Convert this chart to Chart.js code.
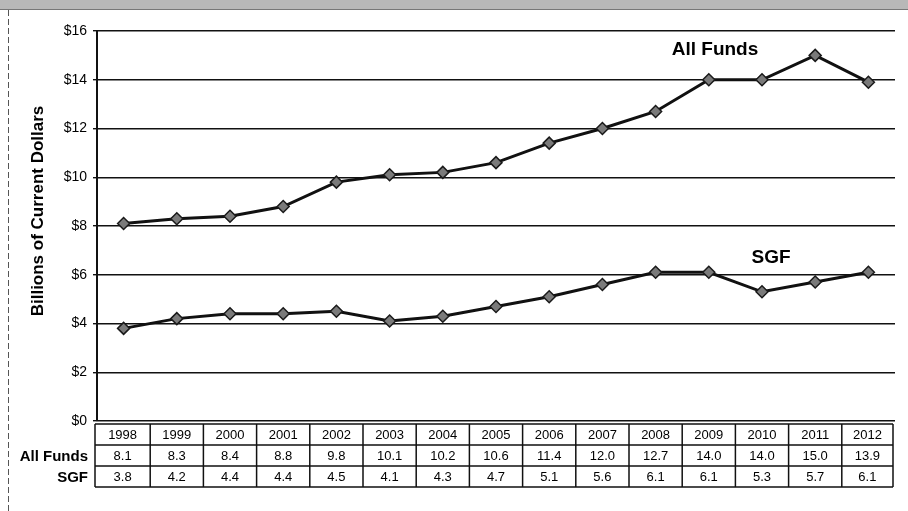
<!DOCTYPE html>
<html>
<head>
<meta charset="utf-8">
<script src="https://cdn.jsdelivr.net/npm/chart.js@4/dist/chart.umd.min.js"></script>
<style>
  html, body { margin: 0; padding: 0; background: #fff; }
  #wrap { width: 908px; height: 511px; position: relative; }
</style>
</head>
<body>
<div id="wrap"><canvas id="c" width="908" height="511"></canvas></div>
<script>
const years = ['1998','1999','2000','2001','2002','2003','2004','2005','2006','2007','2008','2009','2010','2011','2012'];
const allFunds = [8.1, 8.3, 8.4, 8.8, 9.8, 10.1, 10.2, 10.6, 11.4, 12.0, 12.7, 14.0, 14.0, 15.0, 13.9];
const sgf = [3.8, 4.2, 4.4, 4.4, 4.5, 4.1, 4.3, 4.7, 5.1, 5.6, 6.1, 6.1, 5.3, 5.7, 6.1];
const yTicks = [0, 2, 4, 6, 8, 10, 12, 14, 16];
const rowLabels = ['All Funds', 'SGF'];
const yTitle = 'Billions of Current Dollars';

const FONT = '"Liberation Sans", Arial, sans-serif';

const decor = {
  id: 'decor',
  beforeDraw(chart) {
    const ctx = chart.ctx;
    ctx.save();
    ctx.fillStyle = '#fff';
    ctx.fillRect(0, 0, chart.width, chart.height);
    // top gray band
    ctx.fillStyle = '#b8b8b8';
    ctx.fillRect(0, 0, chart.width, 10);
    ctx.fillStyle = '#777';
    ctx.fillRect(0, 9, chart.width, 1);
    // left dashed border
    ctx.strokeStyle = '#555';
    ctx.lineWidth = 1;
    ctx.setLineDash([6, 3]);
    ctx.beginPath();
    ctx.moveTo(8.5, 10);
    ctx.lineTo(8.5, chart.height);
    ctx.stroke();
    ctx.restore();
  },
  afterDraw(chart) {
    const ctx = chart.ctx;
    const area = chart.chartArea;
    const xs = chart.scales.x;
    ctx.save();
    // y title
    ctx.fillStyle = '#000';
    ctx.font = 'bold 17px ' + FONT;
    ctx.textAlign = 'center';
    ctx.textBaseline = 'middle';
    ctx.translate(38, 211);
    ctx.rotate(-Math.PI / 2);
    ctx.fillText(yTitle, 0, 0);
    ctx.restore();

    ctx.save();
    // series labels
    ctx.fillStyle = '#000';
    ctx.font = 'bold 19px ' + FONT;
    ctx.textAlign = 'center';
    ctx.textBaseline = 'middle';
    ctx.fillText(chart.data.datasets[0].label, 715, 50);
    ctx.fillText(chart.data.datasets[1].label, 771, 258);

    // data table
    const top = area.bottom + 3;
    const rowH = 21;
    const left = area.left - 2;
    const right = area.right - 2;
    const n = years.length;
    const bounds = [left];
    for (let i = 0; i < n - 1; i++) {
      bounds.push((xs.getPixelForValue(i) + xs.getPixelForValue(i + 1)) / 2);
    }
    bounds.push(right);
    ctx.strokeStyle = '#111';
    ctx.lineWidth = 1.5;
    ctx.beginPath();
    for (let r = 0; r <= 3; r++) {
      ctx.moveTo(left, top + r * rowH);
      ctx.lineTo(right, top + r * rowH);
    }
    bounds.forEach(b => {
      ctx.moveTo(b, top);
      ctx.lineTo(b, top + 3 * rowH);
    });
    ctx.stroke();

    ctx.font = '13px ' + FONT;
    ctx.textAlign = 'center';
    ctx.textBaseline = 'middle';
    const rows = [years, allFunds.map(v => v.toFixed(1)), sgf.map(v => v.toFixed(1))];
    rows.forEach((row, r) => {
      row.forEach((t, i) => {
        const cx = (bounds[i] + bounds[i + 1]) / 2;
        ctx.fillText(t, cx, top + r * rowH + rowH / 2 + 1);
      });
    });
    ctx.font = 'bold 15px ' + FONT;
    ctx.textAlign = 'right';
    rowLabels.forEach((lab, r) => {
      ctx.fillText(lab, 88, top + (r + 1) * rowH + rowH / 2 + 1);
    });
    ctx.restore();
  }
};

new Chart(document.getElementById('c'), {
  type: 'line',
  data: {
    labels: years,
    datasets: [
      { label: 'All Funds', data: allFunds },
      { label: 'SGF', data: sgf }
    ]
  },
  options: {
    responsive: false,
    animation: false,
    events: [],
    layout: { padding: { top: 31, right: 13, bottom: 90, left: 0 } },
    elements: {
      line: { borderColor: '#111', borderWidth: 3, tension: 0, fill: false },
      point: { pointStyle: 'rectRot', radius: 6, backgroundColor: '#7a7a7a', borderColor: '#1a1a1a', borderWidth: 1.5 }
    },
    plugins: { legend: { display: false }, tooltip: { enabled: false } },
    scales: {
      x: { type: 'category', offset: true, display: false },
      y: {
        min: 0, max: 16,
        afterBuildTicks(scale) { scale.ticks = yTicks.map(v => ({ value: v })); },
        afterFit(scale) { scale.width = 97; },
        ticks: {
          color: '#000',
          padding: 6,
          font: { family: FONT, size: 14 },
          callback: v => '$' + v
        },
        grid: { color: '#111', lineWidth: 1.4, drawTicks: true, tickLength: 4 },
        border: { display: true, color: '#111', width: 2 },
        title: { display: false }
      }
    }
  },
  plugins: [decor]
});
</script>
</body>
</html>
